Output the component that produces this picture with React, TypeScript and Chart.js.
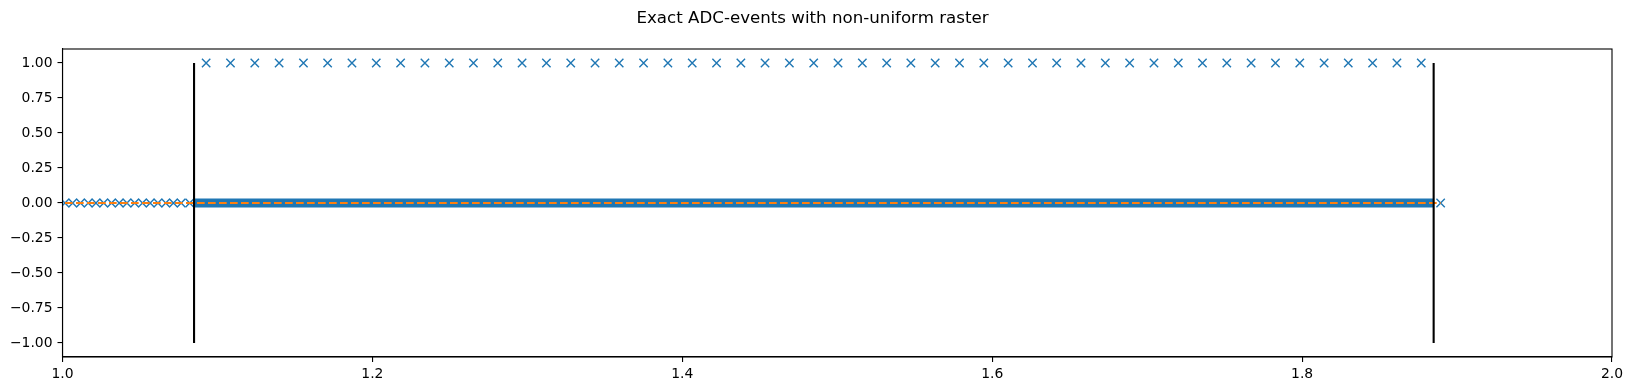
import { useEffect, useRef } from "react";
import { Chart, registerables } from "chart.js";
Chart.register(...registerables);

const TITLE = "Exact ADC-events with non-uniform raster";
const xTicks = [1.0, 1.2, 1.4, 1.6, 1.8, 2.0];
const yTicks = [-1.0, -0.75, -0.5, -0.25, 0.0, 0.25, 0.5, 0.75, 1.0];
const xRange = [1.0, 2.0];
const yRange = [-1.1, 1.1];

// events at level 0 before the first boundary (coarse raster)
const lowEventsX = [
  1.0016, 1.0066, 1.0116, 1.0166, 1.0216, 1.0266, 1.0316, 1.0366, 1.0416,
  1.0466, 1.0516, 1.0566, 1.0616, 1.0666, 1.0716, 1.0766, 1.0821,
];
// dense events at level 0 between the boundaries (drawn as a solid band)
const denseBandX = [1.0849, 1.8849];
// last event at level 0 after the second boundary
const trailingEventsX = [1.8894];
// events at level 1
const highEventsX = [
  1.0927, 1.1084, 1.1241, 1.1398, 1.1555, 1.1711, 1.1868, 1.2025, 1.2182,
  1.2339, 1.2496, 1.2652, 1.2809, 1.2966, 1.3123, 1.328, 1.3437, 1.3593,
  1.375, 1.3907, 1.4064, 1.4221, 1.4378, 1.4534, 1.4691, 1.4848, 1.5005,
  1.5162, 1.5319, 1.5475, 1.5632, 1.5789, 1.5946, 1.6103, 1.626, 1.6416,
  1.6573, 1.673, 1.6887, 1.7044, 1.7201, 1.7357, 1.7514, 1.7671, 1.7828,
  1.7985, 1.8142, 1.8298, 1.8455, 1.8612, 1.8769,
];
const boundaryX = [1.0849, 1.8849];
const boundaryY = [-1, 1];
const referenceX = [1.0016, 1.8894];
const referenceLevel = 0;

const BLUE = "#1f77b4";
const ORANGE = "#ff7f0e";
const FONT = '"DejaVu Sans", sans-serif';

export default function App() {
  const ref = useRef<HTMLCanvasElement | null>(null);
  useEffect(() => {
    if (!ref.current) return;
    const frame = {
      id: "frame",
      afterDraw(chart: any) {
        const { ctx, chartArea: a } = chart;
        ctx.save();
        ctx.strokeStyle = "#000";
        ctx.lineWidth = 1.1;
        ctx.strokeRect(a.left, a.top, a.right - a.left, a.bottom - a.top);
        ctx.fillStyle = "#000";
        ctx.font = `16.67px ${FONT}`;
        ctx.textAlign = "center";
        ctx.textBaseline = "alphabetic";
        ctx.fillText(TITLE, 812.5, 22.7);
        ctx.restore();
      },
    };
    const markerStyle = {
      showLine: false,
      pointStyle: "crossRot",
      pointRadius: 5.9,
      pointBorderWidth: 1.4,
      pointBorderColor: BLUE,
      pointBackgroundColor: BLUE,
      borderColor: BLUE,
      backgroundColor: BLUE,
    };
    const chart = new Chart(ref.current, {
      type: "scatter",
      data: {
        datasets: [
          ...boundaryX.map((bx) => ({
            data: boundaryY.map((y) => ({ x: bx, y })),
            showLine: true,
            borderColor: "#000",
            borderWidth: 2.1,
            pointRadius: 0,
          })),
          {
            data: referenceX.map((x) => ({ x, y: referenceLevel })),
            showLine: true,
            borderColor: ORANGE,
            borderWidth: 2.1,
            borderDash: [7.7, 3.3],
            pointRadius: 0,
          },
          {
            data: denseBandX.map((x) => ({ x, y: 0 })),
            showLine: true,
            borderColor: BLUE,
            borderWidth: 9,
            borderCapStyle: "butt",
            pointRadius: 0,
          },
          {
            ...markerStyle,
            data: [...lowEventsX, ...trailingEventsX].map((x) => ({ x, y: 0 })),
          },
          {
            ...markerStyle,
            data: highEventsX.map((x) => ({ x, y: 1 })),
          },
        ] as any,
      },
      options: {
        animation: false,
        responsive: false,
        devicePixelRatio: 1,
        events: [],
        layout: { padding: { top: 49, right: 21, left: 0, bottom: 0 } },
        plugins: {
          legend: { display: false },
          tooltip: { enabled: false },
          title: { display: false },
        },
        scales: {
          x: {
            type: "linear",
            min: xRange[0],
            max: xRange[1],
            grid: {
              display: true,
              drawOnChartArea: false,
              drawTicks: true,
              tickLength: 5,
              color: "#000",
              lineWidth: 1.1,
            },
            border: { display: true, color: "#000", width: 1.1 },
            ticks: {
              color: "#000",
              font: { family: FONT, size: 13.9 },
              padding: 4,
              maxRotation: 0,
              autoSkip: false,
              callback: (v: any) => Number(v).toFixed(1),
            },
            afterBuildTicks: (s: any) => {
              s.ticks = xTicks.map((value) => ({ value }));
            },
            afterFit: (s: any) => {
              s.height = 34;
            },
          },
          y: {
            type: "linear",
            min: yRange[0],
            max: yRange[1],
            grid: {
              display: true,
              drawOnChartArea: false,
              drawTicks: true,
              tickLength: 5,
              color: "#000",
              lineWidth: 1.1,
            },
            border: { display: true, color: "#000", width: 1.1 },
            ticks: {
              color: "#000",
              font: { family: FONT, size: 13.9 },
              padding: 5,
              autoSkip: false,
              callback: (v: any) =>
                (Number(v) < 0 ? "\u2212" : "") + Math.abs(Number(v)).toFixed(2),
            },
            afterBuildTicks: (s: any) => {
              s.ticks = yTicks.map((value) => ({ value }));
            },
            afterFit: (s: any) => {
              s.width = 62.5;
            },
          },
        },
      } as any,
      plugins: [frame],
    });
    return () => chart.destroy();
  }, []);
  return (
    <div style={{ position: "absolute", left: 0, top: 0, width: 1633, height: 391, background: "#fff" }}>
      <canvas ref={ref} width={1633} height={391} style={{ width: 1633, height: 391, display: "block" }} />
    </div>
  );
}
